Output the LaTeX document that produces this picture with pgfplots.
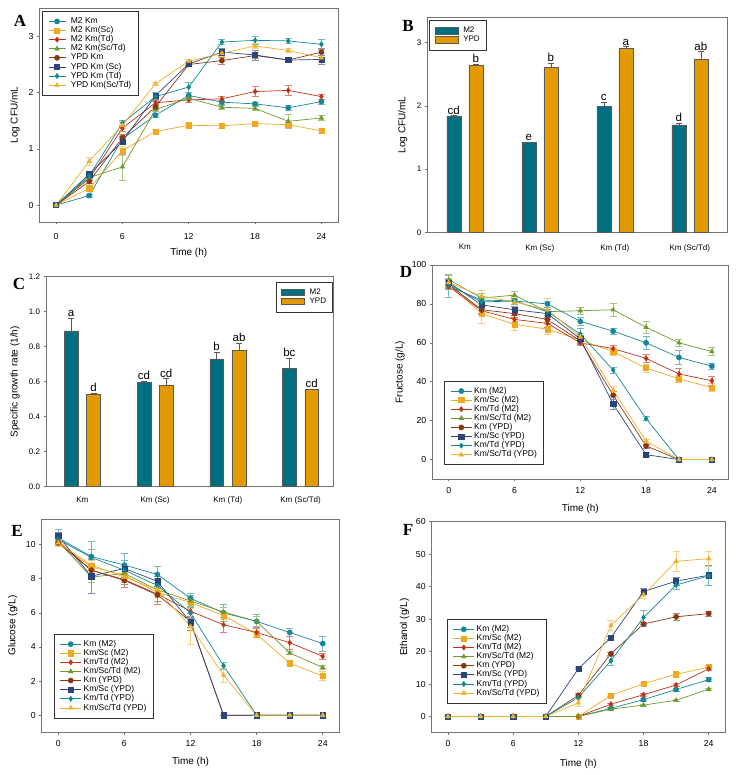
\documentclass[border=0pt]{standalone}
\usepackage{fontspec}
\setmainfont{Liberation Sans}
\newfontfamily\serifbf{Liberation Serif}
\usepackage{pgfplots}
\pgfplotsset{compat=1.18}
\definecolor{cTeal}{RGB}{24,134,152}
\definecolor{cOrange}{RGB}{240,168,32}
\definecolor{cRed}{RGB}{196,48,24}
\definecolor{cGreen}{RGB}{108,152,44}
\definecolor{cBrown}{RGB}{138,56,20}
\definecolor{cNavy}{RGB}{44,68,124}
\definecolor{cTealB}{RGB}{14,136,150}
\definecolor{cGold}{RGB}{242,176,40}
\definecolor{barTeal}{RGB}{0,112,128}
\definecolor{barGold}{RGB}{226,154,0}
\pgfplotsset{
 base/.style={scale only axis, tick align=outside, tick pos=left,
   axis line style={black!55, line width=0.7pt},
   major tick length=2.5pt, tick style={black!55, line width=0.6pt},
   /pgf/number format/assume math mode=true,
   tick label style={font=\fontsize{8.7}{10}\selectfont},
   xticklabel style={yshift=-2pt},
   label style={font=\fontsize{10}{11}\selectfont}},
 lg/.style={legend cell align=left,
   legend style={draw=black!80, line width=0.6pt, font=\fontsize{8.5}{9}\selectfont,
     inner xsep=6pt, inner ysep=5.5pt, row sep=0pt,
     nodes={inner sep=0.5pt, text height=6.2pt, text depth=1.9pt},
     /tikz/every odd column/.append style={column sep=1.5pt}},
   legend image code/.code={\draw[mark repeat=2,mark phase=2,##1] plot coordinates {(0pt,0pt) (10.5pt,0pt) (21pt,0pt)};}},
 lgA/.style={lg,
   legend style={/tikz/every odd column/.append style={column sep=4.5pt}},
   legend image code/.code={\draw[mark repeat=2,mark phase=2,##1] plot coordinates {(0pt,0pt) (8.5pt,0pt) (17pt,0pt)};}},
 ser/.style 2 args={color=#1, mark=#2, line width=0.7pt, mark size=2.6pt,
   mark options={solid, fill=#1, draw=#1, line width=0.5pt},
   error bars/.cd, y dir=both, y explicit,
   error bar style={line width=0.6pt, draw=#1!60!white},
   error mark options={rotate=90, mark size=3.5pt, line width=0.6pt, draw=#1!60!white}},
 s1/.style={ser={cTeal}{*}},
 s2/.style={ser={cOrange}{square*}},
 s3/.style={ser={cRed}{diamond*}},
 s4/.style={ser={cGreen}{triangle*}},
 s5/.style={ser={cBrown}{*}},
 s6/.style={ser={cNavy}{square*}},
 s7/.style={ser={cTealB}{diamond*}},
 s8/.style={ser={cGold}{triangle*}},
 barbase/.style={base, ybar, bar width=14pt, xmin=-0.5, xtick={0,1,2,3},
   xticklabels={Km, Km (Sc), Km (Td), Km (Sc/Td)}, xtick style={draw=none},
   tick label style={font=\fontsize{8}{9}\selectfont},
   legend cell align=left,
   legend style={draw=black!80, line width=0.6pt, font=\fontsize{8}{9}\selectfont,
     inner xsep=5.5pt, inner ysep=6pt, row sep=0pt,
     nodes={inner sep=0.6pt, text height=6pt, text depth=1.8pt},
     /tikz/every odd column/.append style={column sep=4pt}},
   legend image code/.code={\draw[##1] (0pt,-3pt) rectangle (23pt,3.5pt);}},
 bM/.style={fill=barTeal, draw=black!65, line width=0.5pt,
   error bars/.cd, y dir=plus, y explicit,
   error bar style={draw=black!65, line width=0.5pt},
   error mark options={rotate=90, mark size=3pt, draw=black!65}},
 bY/.style={fill=barGold, draw=black!65, line width=0.5pt,
   error bars/.cd, y dir=plus, y explicit,
   error bar style={draw=black!65, line width=0.5pt},
   error mark options={rotate=90, mark size=3pt, draw=black!65}},
}
\begin{document}
\begin{tikzpicture}[x=1pt,y=1pt]
\useasboundingbox (0pt,0pt) rectangle (736pt,775pt);
% ---------------- A ----------------
\begin{axis}[base, at={(39.5pt,553pt)}, anchor=south west, width=298.5pt, height=213.7pt,
  xmin=-1.5, xmax=25.5, ymin=-0.3, ymax=3.5, xtick={0,6,...,24}, ytick={0,1,2,3},
  xticklabel style={yshift=-3.5pt},
  xlabel={Time (h)}, ylabel={Log CFU/mL},
  xlabel style={at={(axis description cs:0.5,-0.145)}, anchor=center},
  ylabel style={at={(axis description cs:-0.082,0.5)}, anchor=center},
  lgA, legend style={at={(0.008,0.987)}, anchor=north west}]
\addplot[s1] coordinates {(0,0)+-(0,0.02) (3,0.17)+-(0,0.03) (6,1.18)+-(0,0.05) (9,1.60)+-(0,0.04) (12,1.95)+-(0,0.05) (15,1.83)+-(0,0.04) (18,1.80)+-(0,0.03) (21,1.73)+-(0,0.04) (24,1.84)+-(0,0.04)};
\addplot[s2] coordinates {(0,0)+-(0,0) (3,0.30)+-(0,0.04) (6,0.97)+-(0,0.08) (9,1.31)+-(0,0.03) (12,1.42)+-(0,0.03) (15,1.41)+-(0,0.04) (18,1.45)+-(0,0.03) (21,1.43)+-(0,0.04) (24,1.32)+-(0,0.04)};
\addplot[s3] coordinates {(0,0)+-(0,0) (3,0.47)+-(0,0.03) (6,1.37)+-(0,0.05) (9,1.82)+-(0,0.05) (12,1.87)+-(0,0.04) (15,1.89)+-(0,0.04) (18,2.02)+-(0,0.09) (21,2.04)+-(0,0.09) (24,1.93)+-(0,0.04)};
\addplot[s4] coordinates {(0,0)+-(0,0) (3,0.49)+-(0,0.03) (6,0.68)+-(0,0.23) (9,1.70)+-(0,0.04) (12,1.90)+-(0,0.04) (15,1.74)+-(0,0.03) (18,1.72)+-(0,0.03) (21,1.49)+-(0,0.12) (24,1.55)+-(0,0.05)};
\addplot[s5] coordinates {(0,0)+-(0,0) (3,0.42)+-(0,0.03) (6,1.20)+-(0,0.06) (9,1.75)+-(0,0.05) (12,2.50)+-(0,0.04) (15,2.57)+-(0,0.06) (18,2.66)+-(0,0.05) (21,2.58)+-(0,0.03) (24,2.72)+-(0,0.06)};
\addplot[s6] coordinates {(0,0)+-(0,0) (3,0.55)+-(0,0.05) (6,1.13)+-(0,0.04) (9,1.95)+-(0,0.06) (12,2.51)+-(0,0.03) (15,2.72)+-(0,0.06) (18,2.67)+-(0,0.09) (21,2.58)+-(0,0.03) (24,2.59)+-(0,0.08)};
\addplot[s7] coordinates {(0,0)+-(0,0) (3,0.52)+-(0,0.05) (6,1.46)+-(0,0.05) (9,1.93)+-(0,0.08) (12,2.10)+-(0,0.09) (15,2.90)+-(0,0.04) (18,2.93)+-(0,0.07) (21,2.92)+-(0,0.04) (24,2.86)+-(0,0.09)};
\addplot[s8] coordinates {(0,0)+-(0,0) (3,0.78)+-(0,0.07) (6,1.42)+-(0,0.05) (9,2.16)+-(0,0.03) (12,2.56)+-(0,0.04) (15,2.70)+-(0,0.05) (18,2.83)+-(0,0.04) (21,2.75)+-(0,0.03) (24,2.62)+-(0,0.08)};
\legend{M2 Km, M2 Km(Sc), M2 Km(Td), M2 Km(Sc/Td), YPD Km, YPD Km (Sc), YPD Km (Td), YPD Km(Sc/Td)}
\end{axis}
% ---------------- B ----------------
\begin{axis}[barbase, at={(427.3pt,542.7pt)}, anchor=south west, width=300pt, height=215pt,
  xmax=3.5, ymin=0, ymax=3.4, ytick={0,1,2,3}, ylabel={Log CFU/mL},
  xticklabel style={yshift=-4pt},
  ylabel style={at={(axis description cs:-0.082,0.5)}, anchor=center},
  legend style={at={(0.007,0.987)}, anchor=north west}]
\addplot[bar shift=-11pt, bM] coordinates {(0,1.84)+-(0,0.01) (1,1.42)+-(0,0.01) (2,1.99)+-(0,0.07) (3,1.70)+-(0,0.03)};
\addplot[bar shift=11pt, bY] coordinates {(0,2.64)+-(0,0.02) (1,2.61)+-(0,0.07) (2,2.91)+-(0,0.03) (3,2.73)+-(0,0.13)};
\legend{M2, YPD}
\begin{scope}[every node/.style={anchor=south, inner sep=0.8pt, font=\fontsize{11.5}{12}\selectfont}]
\node at (axis cs:-0.147,1.85) {cd};
\node at (axis cs:0.147,2.66) {b};
\node at (axis cs:0.853,1.43) {e};
\node at (axis cs:1.147,2.68) {b};
\node at (axis cs:1.853,2.06) {c};
\node at (axis cs:2.147,2.94) {a};
\node at (axis cs:2.853,1.73) {d};
\node at (axis cs:3.147,2.86) {ab};
\end{scope}
\end{axis}
% ---------------- C ----------------
\begin{axis}[barbase, at={(46pt,288.3pt)}, anchor=south west, width=287.3pt, height=210pt,
  xmax=3.45, ymin=0, ymax=1.2, ytick={0,0.2,...,1.2}, bar width=13.7pt,
  xticklabel style={yshift=-2pt},
  yticklabel style={/pgf/number format/fixed, /pgf/number format/fixed zerofill, /pgf/number format/precision=1},
  ylabel={Specific growth rate (1/h)},
  ylabel style={at={(axis description cs:-0.108,0.5)}, anchor=center},
  legend style={at={(0.997,0.976)}, anchor=north east}]
\addplot[bar shift=-11.2pt, bM] coordinates {(0,0.89)+-(0,0.07) (1,0.595)+-(0,0.01) (2,0.73)+-(0,0.04) (3,0.675)+-(0,0.06)};
\addplot[bar shift=11.2pt, bY] coordinates {(0,0.527)+-(0,0.005) (1,0.578)+-(0,0.04) (2,0.78)+-(0,0.04) (3,0.555)+-(0,0.003)};
\legend{M2, YPD}
\begin{scope}[every node/.style={anchor=south, inner sep=0.8pt, font=\fontsize{11.5}{12}\selectfont}]
\node at (axis cs:-0.154,0.965) {a};
\node at (axis cs:0.154,0.535) {d};
\node at (axis cs:0.846,0.608) {cd};
\node at (axis cs:1.154,0.62) {cd};
\node at (axis cs:1.846,0.772) {b};
\node at (axis cs:2.154,0.822) {ab};
\node at (axis cs:2.846,0.737) {bc};
\node at (axis cs:3.154,0.56) {cd};
\end{scope}
\end{axis}
% ---------------- D ----------------
\begin{axis}[base, at={(432.3pt,296pt)}, anchor=south west, width=296pt, height=214pt,
  xmin=-1.5, xmax=25.5, ymin=-10, ymax=100, xtick={0,6,...,24}, ytick={0,20,...,100},
  xlabel={Time (h)}, ylabel={Fructose (g/L)},
  xlabel style={at={(axis description cs:0.5,-0.14)}, anchor=center},
  ylabel style={at={(axis description cs:-0.109,0.5)}, anchor=center},
  lg, legend style={at={(0.040,0.065)}, anchor=south west}]
\addplot[s1] coordinates {(0,89)+-(0,5.5) (3,82)+-(0,2) (6,81.5)+-(0,1.5) (9,80)+-(0,1.5) (12,71)+-(0,2) (15,66)+-(0,1.5) (18,60)+-(0,3.5) (21,52.5)+-(0,3.5) (24,48)+-(0,1.5)};
\addplot[s2] coordinates {(0,90)+-(0,2) (3,75)+-(0,5) (6,69.5)+-(0,3) (9,67)+-(0,2.5) (12,61.5)+-(0,2) (15,55.5)+-(0,2) (18,47)+-(0,2) (21,41.5)+-(0,2) (24,37)+-(0,2)};
\addplot[s3] coordinates {(0,89)+-(0,1.5) (3,76.5)+-(0,2) (6,72)+-(0,2) (9,70)+-(0,2) (12,60)+-(0,1.5) (15,57)+-(0,1.5) (18,52)+-(0,2) (21,44)+-(0,3) (24,40.5)+-(0,2.5)};
\addplot[s4] coordinates {(0,92.5)+-(0,2.5) (3,83)+-(0,2.5) (6,84.5)+-(0,2) (9,76)+-(0,2) (12,76.5)+-(0,2) (15,77)+-(0,3.5) (18,68)+-(0,3) (21,60)+-(0,2) (24,55.5)+-(0,2)};
\addplot[s5] coordinates {(0,90)+-(0,1.5) (3,77)+-(0,2) (6,75)+-(0,2) (9,72)+-(0,2) (12,61)+-(0,2) (15,33)+-(0,2) (18,7)+-(0,1) (21,0)+-(0,0) (24,0)+-(0,0)};
\addplot[s6] coordinates {(0,91)+-(0,1.5) (3,79.5)+-(0,2) (6,77)+-(0,2) (9,75)+-(0,2) (12,62)+-(0,2) (15,28.5)+-(0,2.5) (18,2.5)+-(0,1) (21,0)+-(0,0) (24,0)+-(0,0)};
\addplot[s7] coordinates {(0,90)+-(0,2) (3,81)+-(0,2.5) (6,81.5)+-(0,2.5) (9,76)+-(0,2) (12,64.5)+-(0,3) (15,46)+-(0,1.5) (18,21)+-(0,1) (21,0)+-(0,0) (24,0)+-(0,0)};
\addplot[s8] coordinates {(0,91)+-(0,2) (3,84)+-(0,3) (6,81)+-(0,2.5) (9,77)+-(0,6) (12,63)+-(0,2) (15,35.5)+-(0,2) (18,9.5)+-(0,1) (21,0)+-(0,0) (24,0)+-(0,0)};
\legend{Km (M2), Km/Sc (M2), Km/Td (M2), Km/Sc/Td (M2), Km (YPD), Km/Sc (YPD), Km/Td (YPD), Km/Sc/Td (YPD)}
\end{axis}
% ---------------- E ----------------
\begin{axis}[base, at={(41.7pt,42.7pt)}, anchor=south west, width=297.6pt, height=213.3pt,
  xmin=-1.5, xmax=25.5, ymin=-1, ymax=11.5, xtick={0,6,...,24}, ytick={0,2,...,10},
  xlabel={Time (h)}, ylabel={Glucose (g/L)},
  xlabel style={at={(axis description cs:0.5,-0.141)}, anchor=center},
  ylabel style={at={(axis description cs:-0.097,0.5)}, anchor=center},
  lg, legend style={at={(0.04,0.066)}, anchor=south west}]
\addplot[s1] coordinates {(0,10.4)+-(0,0.5) (3,9.3)+-(0,0.9) (6,8.8)+-(0,0.7) (9,8.25)+-(0,0.5) (12,6.85)+-(0,0.3) (15,6.0)+-(0,0.5) (18,5.5)+-(0,0.4) (21,4.85)+-(0,0.25) (24,4.2)+-(0,0.45)};
\addplot[s2] coordinates {(0,10.1)+-(0,0.2) (3,8.7)+-(0,0.4) (6,8.2)+-(0,0.5) (9,7.2)+-(0,0.3) (12,6.6)+-(0,0.3) (15,5.85)+-(0,0.2) (18,4.75)+-(0,0.2) (21,3.05)+-(0,0.1) (24,2.3)+-(0,0.25)};
\addplot[s3] coordinates {(0,10.2)+-(0,0.2) (3,8.5)+-(0,0.4) (6,7.95)+-(0,0.3) (9,7.1)+-(0,0.6) (12,6.1)+-(0,0.3) (15,5.3)+-(0,0.45) (18,4.85)+-(0,0.3) (21,4.25)+-(0,0.4) (24,3.45)+-(0,0.2)};
\addplot[s4] coordinates {(0,10.2)+-(0,0.2) (3,8.1)+-(0,0.3) (6,8.3)+-(0,0.4) (9,7.35)+-(0,0.3) (12,6.7)+-(0,0.3) (15,6.05)+-(0,0.3) (18,5.5)+-(0,0.3) (21,3.65)+-(0,0.1) (24,2.8)+-(0,0.1)};
\addplot[s5] coordinates {(0,10.1)+-(0,0.2) (3,8.5)+-(0,0.4) (6,7.9)+-(0,0.4) (9,7.05)+-(0,0.4) (12,5.5)+-(0,0.5) (15,0)+-(0,0) (18,0)+-(0,0) (21,0)+-(0,0) (24,0)+-(0,0)};
\addplot[s6] coordinates {(0,10.5)+-(0,0.2) (3,8.15)+-(0,1.0) (6,8.6)+-(0,0.5) (9,7.85)+-(0,0.3) (12,5.45)+-(0,0.3) (15,0)+-(0,0) (18,0)+-(0,0) (21,0)+-(0,0) (24,0)+-(0,0)};
\addplot[s7] coordinates {(0,10.3)+-(0,0.3) (3,9.25)+-(0,0.5) (6,8.5)+-(0,0.6) (9,7.6)+-(0,0.4) (12,6.0)+-(0,0.3) (15,2.9)+-(0,0.2) (18,0)+-(0,0) (21,0)+-(0,0) (24,0)+-(0,0)};
\addplot[s8] coordinates {(0,10.1)+-(0,0.2) (3,8.8)+-(0,0.4) (6,8.1)+-(0,0.3) (9,7.35)+-(0,0.3) (12,5.2)+-(0,1.05) (15,2.35)+-(0,0.4) (18,0)+-(0,0) (21,0)+-(0,0) (24,0)+-(0,0)};
\legend{Km (M2), Km/Sc (M2), Km/Td (M2), Km/Sc/Td (M2), Km (YPD), Km/Sc (YPD), Km/Td (YPD), Km/Sc/Td (YPD)}
\end{axis}
% ---------------- F ----------------
\begin{axis}[base, at={(431.7pt,42.3pt)}, anchor=south west, width=293.3pt, height=211pt,
  xmin=-1.5, xmax=25.5, ymin=-5, ymax=60, xtick={0,6,...,24}, ytick={0,10,...,60},
  xlabel={Time (h)}, ylabel={Ethanol (g/L)},
  xlabel style={at={(axis description cs:0.5,-0.148)}, anchor=center},
  ylabel style={at={(axis description cs:-0.093,0.5)}, anchor=center},
  lg, legend style={at={(0.051,0.139)}, anchor=south west}]
\addplot[s1] coordinates {(0,0)+-(0,0) (3,0)+-(0,0) (6,0)+-(0,0) (9,0)+-(0,0) (12,0)+-(0,0) (15,2.5)+-(0,0.3) (18,5.2)+-(0,0.4) (21,8.3)+-(0,0.5) (24,11.35)+-(0,0.6)};
\addplot[s2] coordinates {(0,0)+-(0,0) (3,0)+-(0,0) (6,0)+-(0,0) (9,0)+-(0,0) (12,0)+-(0,0) (15,6.5)+-(0,0.4) (18,10.1)+-(0,0.5) (21,13)+-(0,0.6) (24,15.2)+-(0,0.6)};
\addplot[s3] coordinates {(0,0)+-(0,0) (3,0)+-(0,0) (6,0)+-(0,0) (9,0)+-(0,0) (12,0)+-(0,0) (15,3.8)+-(0,0.3) (18,6.7)+-(0,0.4) (21,9.7)+-(0,0.5) (24,14.7)+-(0,0.6)};
\addplot[s4] coordinates {(0,0)+-(0,0) (3,0)+-(0,0) (6,0)+-(0,0) (9,0)+-(0,0) (12,0)+-(0,0) (15,2.25)+-(0,0.2) (18,3.5)+-(0,0.3) (21,5.0)+-(0,0.3) (24,8.4)+-(0,0.4)};
\addplot[s5] coordinates {(0,0)+-(0,0) (3,0)+-(0,0) (6,0)+-(0,0) (9,0)+-(0,0) (12,6.5)+-(0,0.5) (15,19.3)+-(0,0.6) (18,28.5)+-(0,0.6) (21,30.7)+-(0,1) (24,31.7)+-(0,0.8)};
\addplot[s6] coordinates {(0,0)+-(0,0) (3,0)+-(0,0) (6,0)+-(0,0) (9,0)+-(0,0) (12,14.7)+-(0,0.3) (15,24.3)+-(0,0.5) (18,38.5)+-(0,1) (21,41.7)+-(0,1.2) (24,43.5)+-(0,3)};
\addplot[s7] coordinates {(0,0)+-(0,0) (3,0)+-(0,0) (6,0)+-(0,0) (9,0)+-(0,0) (12,5.8)+-(0,0.5) (15,17.2)+-(0,1.3) (18,30.5)+-(0,2.2) (21,40.5)+-(0,1.3) (24,43.3)+-(0,3)};
\addplot[s8] coordinates {(0,0)+-(0,0) (3,0)+-(0,0) (6,0)+-(0,0) (9,0)+-(0,0) (12,4.2)+-(0,1.2) (15,28)+-(0,1.6) (18,37.5)+-(0,1) (21,47.8)+-(0,3) (24,48.6)+-(0,2.4)};
\legend{Km (M2), Km/Sc (M2), Km/Td (M2), Km/Sc/Td (M2), Km (YPD), Km/Sc (YPD), Km/Td (YPD), Km/Sc/Td (YPD)}
\end{axis}
% ---------------- panel letters ----------------
\begin{scope}[every node/.style={font=\serifbf\bfseries\fontsize{17}{17}\selectfont, inner sep=0pt}]
\node at (20pt,754pt) {A};
\node at (408pt,749pt) {B};
\node at (19pt,491pt) {C};
\node at (406pt,503pt) {D};
\node at (17pt,244pt) {E};
\node at (408pt,245pt) {F};
\end{scope}
\end{tikzpicture}
\end{document}
